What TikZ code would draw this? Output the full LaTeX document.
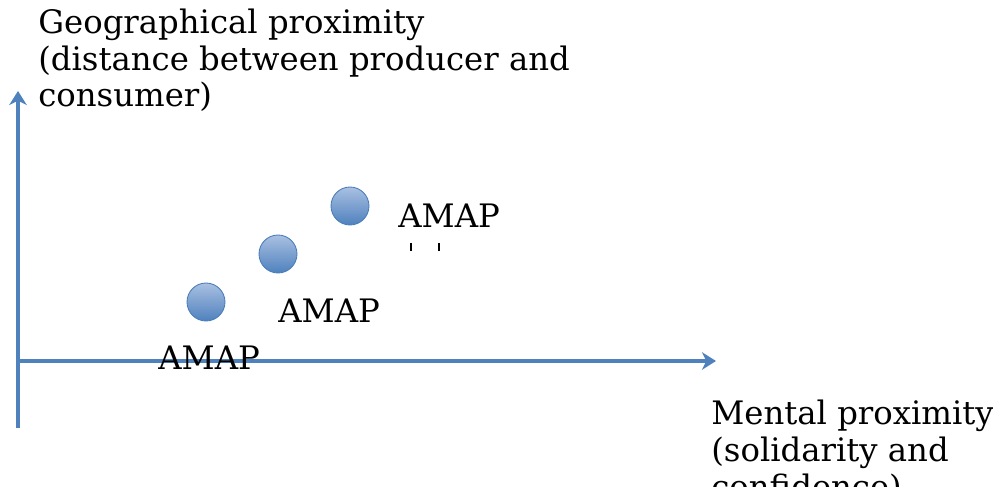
\documentclass[tikz,border=0pt]{standalone}
\usepackage{fontspec}
\setmainfont{DejaVu Serif}
\usetikzlibrary{arrows.meta}
\definecolor{axisblue}{HTML}{4F81BD}
\definecolor{dotlight}{HTML}{A9C0E2}
\definecolor{dotedge}{HTML}{4A7EBB}
\tikzset{
  axis/.style={draw=axisblue, line width=2.7pt,
    -{Stealth[length=8pt,width=10pt,inset=2.5pt]}},
  dot/.style={circle, minimum size=0.76cm, inner sep=0pt,
    top color=dotlight, bottom color=axisblue, draw=dotedge, line width=0.5pt},
  lbl/.style={inner sep=0pt, align=left, anchor=base west,
    font=\fontsize{18.4}{21}\selectfont}
}
\begin{document}
\begin{tikzpicture}[x=0.02cm,y=-0.02cm]
		\useasboundingbox (0,0) rectangle (993,500);
		% the text frame ends a little above the bottom edge
		\clip (0,0) rectangle (993,486);
			\coordinate (ybot) at (18,428);
			\coordinate (ytop) at (18,91);
			\coordinate (xleft) at (18,361);
			\coordinate (xright) at (716,361);
		\draw[axis] (ybot) -- (ytop);
		\draw[axis] (xleft) -- (xright);

			\node[dot] (amap1) at (206,302) {};
			\node[dot] (amap2) at (278,254) {};
			\node[dot] (amap3) at (350,206) {};

			% base anchor sits on the last line
			\node[lbl] (geo) at (38,107) {Geographical proximity\\(distance between producer and\\consumer)};
			\node[lbl] (mental) at (711,498) {Mental proximity\\(solidarity and\\confidence)};

			\node[lbl] (lbl1) at (158,369) {AMAP};
			\node[lbl] (lbl2) at (278,322) {AMAP};
			\node[lbl] (lbl3) at (398,227) {AMAP};

		\draw[line width=1.3pt] (411,243) -- (411,251);
		\draw[line width=1.3pt] (439,243) -- (439,251);

	\end{tikzpicture}
\end{document}
